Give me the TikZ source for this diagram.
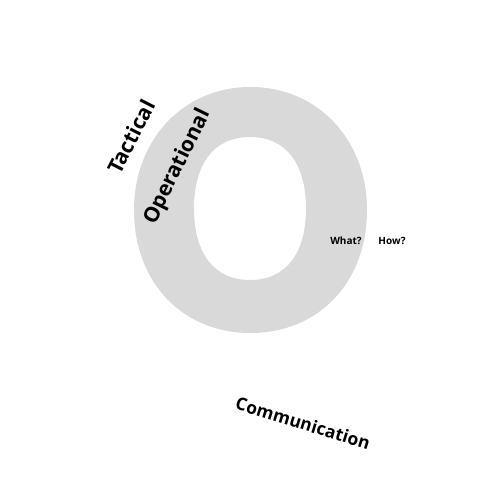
\documentclass[tikz,border=0pt]{standalone}
\usepackage{fontspec}
\setmainfont{Open Sans}
\begin{document}
\begin{tikzpicture}[x=1pt,y=-1pt]
\useasboundingbox (0,0) rectangle (500,500);
\tikzset{
  lbl/.style={font=\bfseries, inner sep=0pt, text=black},
  big/.style={lbl, font=\fontsize{21}{24}\selectfont\bfseries},
  small/.style={lbl, font=\fontsize{10}{12}\selectfont\bfseries}
}
\definecolor{ringgrey}{HTML}{D9D9D9}
% letter O
\fill[ringgrey, even odd rule]
  (250.5,87) .. controls (318,87) and (367,140) .. (367,210)
  .. controls (367,283) and (318,333) .. (250.5,333)
  .. controls (183,333) and (134,283) .. (134,210)
  .. controls (134,140) and (183,87) .. (250.5,87) -- cycle
  (250,137) .. controls (287,137) and (306,165) .. (306,208.5)
  .. controls (306,252) and (287,280) .. (250,280)
  .. controls (213,280) and (194,252) .. (194,208.5)
  .. controls (194,165) and (213,137) .. (250,137) -- cycle;
\node[big, rotate=63] (tac) at (131,137) {Tactical};
\node[big, rotate=64] (ope) at (178,167) {Operational};
\node[small] (what) at (346,241) {What?};
\node[small] (how) at (392,241) {How?};
\node[big, rotate=-17, font=\fontsize{17.5}{20}\selectfont\bfseries] (com) at (303,423) {Communication};
\end{tikzpicture}
\end{document}
